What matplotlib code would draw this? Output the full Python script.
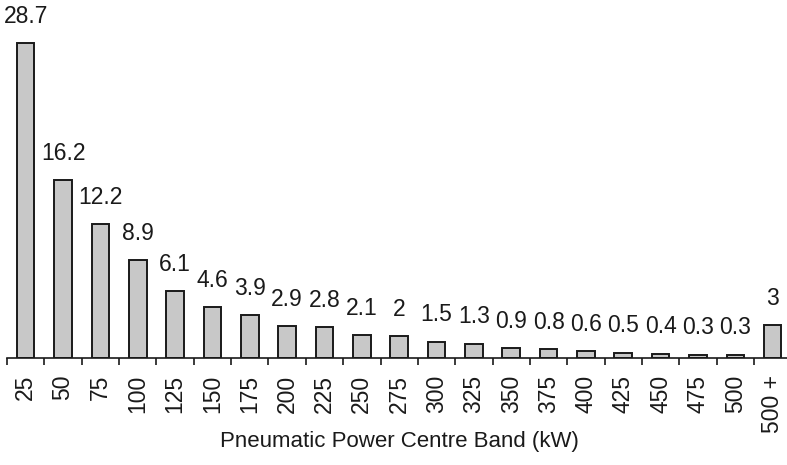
import numpy as np
import matplotlib
matplotlib.use('Agg')
import matplotlib.pyplot as plt

plt.rcParams['font.family'] = ['Liberation Sans', 'DejaVu Sans']

bands = ['25', '50', '75', '100', '125', '150', '175', '200', '225', '250', '275',
         '300', '325', '350', '375', '400', '425', '450', '475', '500', '500 +']
values = [28.7, 16.2, 12.2, 8.9, 6.1, 4.6, 3.9, 2.9, 2.8, 2.1, 2,
          1.5, 1.3, 0.9, 0.8, 0.6, 0.5, 0.4, 0.3, 0.3, 3]
value_labels = ['28.7', '16.2', '12.2', '8.9', '6.1', '4.6', '3.9', '2.9', '2.8', '2.1', '2',
                '1.5', '1.3', '0.9', '0.8', '0.6', '0.5', '0.4', '0.3', '0.3', '3']

fig = plt.figure(figsize=(7.87, 4.65), dpi=100)
# axes runs a little past the right edge, like the original
ax = fig.add_axes([7 / 787, 1 - 358 / 465, 21 * 37.35 / 787, 358 / 465])

x = np.arange(len(bands))
bars = ax.bar(x, values, width=0.47, color='#c8c8c8', edgecolor='#1a1a1a', linewidth=1.4)
for b, lab in zip(bars, value_labels):
    ax.annotate(lab, (b.get_x() + b.get_width() / 2, b.get_height()),
                xytext=(0, 11), textcoords='offset points',
                ha='center', va='bottom', fontsize=16.5, color='#1a1a1a')

ax.set_xlim(-0.5, len(bands) - 0.5)
ax.set_ylim(0, 32.6)
for side in ['top', 'right', 'left']:
    ax.spines[side].set_visible(False)
ax.spines['bottom'].set_linewidth(1.2)
ax.spines['bottom'].set_color('#1a1a1a')
ax.set_yticks([])

ax.set_xticks(x)
ax.set_xticklabels(bands, rotation=90, fontsize=16.5, color='#1a1a1a')
ax.tick_params(axis='x', which='major', length=0, pad=12)
ax.set_xticks(np.arange(len(bands) + 1) - 0.5, minor=True)
ax.tick_params(axis='x', which='minor', length=5, width=1.2, color='#1a1a1a')

fig.text(0.5 * (220 + 578) / 787, 1 - 441 / 465, 'Pneumatic Power Centre Band (kW)',
         ha='center', va='center', fontsize=16, color='#1a1a1a')

fig.savefig('out.png', dpi=100)
